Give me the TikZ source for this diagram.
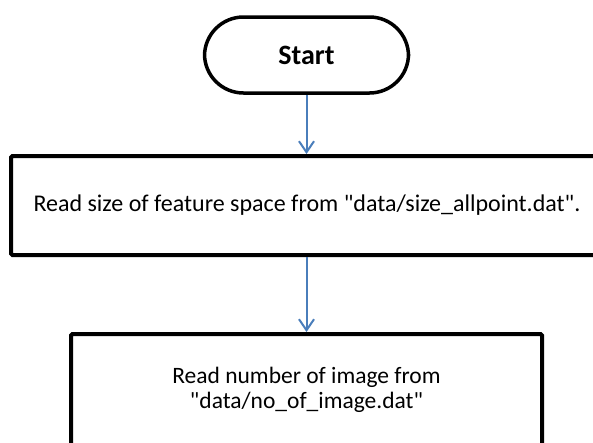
\documentclass[tikz,border=0pt]{standalone}
\usepackage{fontspec}
\setmainfont{Carlito}
\usetikzlibrary{arrows.meta}
\definecolor{flowblue}{RGB}{74,126,187}
\newcommand{\dq}{\textquotedbl}
\begin{document}
\begin{tikzpicture}[x=1pt,y=-1pt,
  terminal/.style={draw=black, line width=3.5pt, rounded corners=39pt,
    minimum width=204pt, minimum height=76pt, inner sep=0pt,
    font=\fontsize{28}{32}\selectfont\bfseries},
  process/.style={draw=black, line width=4pt, rounded corners=1.5pt,
    inner sep=0pt, align=center},
  flow/.style={draw=flowblue, line width=2pt,
    -{Straight Barb[length=11pt,width=15pt,line width=2pt]}}]
  \useasboundingbox (0,0) rectangle (593,442);
  \fill[white] (0,0) rectangle (593,442);

  % terminal at the top
  \node[terminal] (start) at (306.5,55) {Start};

  % first process box, running past the right edge
  \node[process, minimum width=592pt, minimum height=99pt,
        font=\fontsize{24}{27}\selectfont] (size) at (307,205.5)
    {Read size of feature space from \dq data/size\_allpoint.dat\dq .};

  % second process box, running past the bottom edge
  \node[process, minimum width=471pt, minimum height=112pt,
        font=\fontsize{23.5}{25}\selectfont] (nimg) at (306.5,390)
    {Read number of image from\\\dq data/no\_of\_image.dat\dq};

  % connectors
  \draw[flow] (start.south) -- (start.south |- size.north);
  \draw[flow] (size.south -| start.south) -- (start.south |- nimg.north);
\end{tikzpicture}
\end{document}
